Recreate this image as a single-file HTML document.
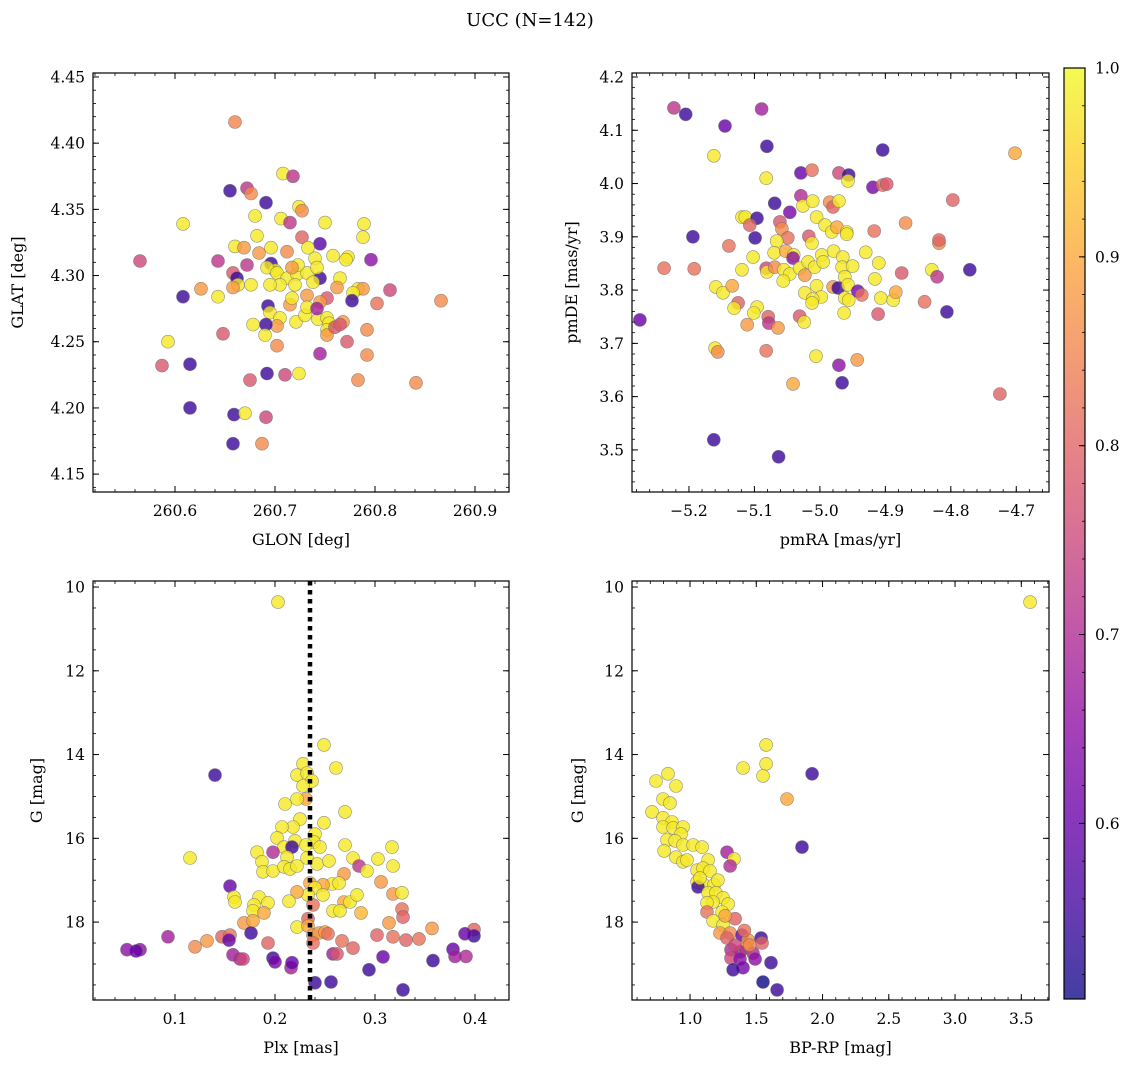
<!DOCTYPE html>
<html><head><meta charset="utf-8"><style>
html,body{margin:0;padding:0;background:#fff}
svg text{font-family:"DejaVu Serif","Liberation Serif",serif;fill:#000}
</style></head><body>
<svg id="fig" width="1136" height="1068" viewBox="0 0 1136 1068" xmlns="http://www.w3.org/2000/svg">
<defs>
<linearGradient id="plasma" x1="0" y1="1" x2="0" y2="0">
<stop offset="0" stop-color="#0d0887"/><stop offset="0.1" stop-color="#41049d"/><stop offset="0.2" stop-color="#6a00a8"/><stop offset="0.3" stop-color="#8f0da4"/><stop offset="0.4" stop-color="#b12a90"/><stop offset="0.5" stop-color="#cc4778"/><stop offset="0.6" stop-color="#e16462"/><stop offset="0.7" stop-color="#f2844b"/><stop offset="0.8" stop-color="#fca636"/><stop offset="0.9" stop-color="#fcce25"/><stop offset="1" stop-color="#f0f921"/>
</linearGradient>
</defs>
<text x="530" y="26" font-size="18" text-anchor="middle">UCC (N=142)</text>
</svg>
<script>
// ---- Panel 1: GLON / GLAT ----
const p1x=[260.660,260.655,260.672,260.676,260.691,260.708,260.718,260.680,260.706,260.715,260.724,260.727,260.750,260.789,260.788,260.608,260.682,260.660,260.669,260.684,260.696,260.712,260.727,260.745,260.733,260.758,260.773,260.771,260.796,260.643,260.672,260.658,260.696,260.700,260.626,260.608,260.643,260.662,260.663,260.658,260.676,260.745,260.765,260.762,260.783,260.788,260.778,260.777,260.802,260.752,260.745,260.732,260.715,260.693,260.695,260.705,260.702,260.691,260.678,260.690,260.721,260.730,260.732,260.743,260.752,260.754,260.742,260.752,260.752,260.760,260.768,260.765,260.792,260.772,260.745,260.792,260.648,260.702,260.615,260.692,260.710,260.724,260.675,260.783,260.692,260.702,260.712,260.722,260.720,260.705,260.695,260.732,260.740,260.742,260.738,260.717,260.723,260.717,260.565,260.587,260.593,260.615,260.659,260.670,260.691,260.658,260.687,260.866,260.841,260.815];
const p1y=[4.416,4.364,4.366,4.362,4.355,4.377,4.375,4.345,4.343,4.340,4.352,4.349,4.340,4.339,4.329,4.339,4.330,4.322,4.321,4.317,4.321,4.318,4.329,4.324,4.321,4.315,4.314,4.312,4.312,4.311,4.308,4.302,4.309,4.304,4.290,4.284,4.284,4.298,4.293,4.291,4.293,4.298,4.298,4.291,4.290,4.290,4.287,4.281,4.279,4.283,4.280,4.285,4.278,4.277,4.272,4.268,4.262,4.263,4.263,4.255,4.265,4.270,4.276,4.267,4.268,4.264,4.275,4.259,4.255,4.261,4.265,4.263,4.259,4.250,4.241,4.240,4.256,4.247,4.233,4.226,4.225,4.226,4.221,4.221,4.306,4.302,4.298,4.301,4.293,4.293,4.293,4.302,4.313,4.306,4.295,4.283,4.308,4.306,4.311,4.232,4.250,4.200,4.195,4.196,4.193,4.173,4.173,4.281,4.219,4.289];
const p1c=[.85,.55,.72,.86,.55,.98,.72,.98,.98,.72,.98,.86,.98,.98,.98,.98,.98,.98,.88,.88,.98,.86,.8,.58,.98,.98,.98,.98,.65,.72,.72,.78,.55,.98,.88,.55,.98,.55,.98,.88,.98,.55,.98,.88,.98,.88,.98,.55,.82,.78,.88,.88,.88,.55,.98,.98,.88,.55,.98,.98,.98,.98,.98,.98,.98,.98,.68,.98,.88,.78,.88,.78,.86,.78,.68,.86,.78,.86,.55,.55,.75,.98,.78,.86,.98,.98,.98,.98,.98,.98,.98,.98,.98,.98,.98,.98,.98,.88,.75,.78,.98,.55,.55,.98,.75,.55,.86,.86,.86,.75];
// ---- Panel 2: pmRA / pmDE ----
const p2x=[-5.082,-5.029,-5.012,-4.971,-4.956,-4.957,-4.919,-4.904,-4.898,-5.069,-5.046,-5.029,-5.026,-5.011,-4.985,-4.980,-4.971,-5.119,-5.114,-5.096,-5.107,-5.061,-5.058,-5.049,-5.005,-4.992,-4.982,-4.974,-4.959,-4.959,-4.917,-4.869,-5.194,-5.099,-5.139,-5.066,-5.017,-5.012,-5.070,-5.052,-5.040,-5.041,-4.997,-4.979,-4.965,-4.930,-5.102,-5.119,-5.082,-5.081,-5.069,-5.055,-5.046,-5.031,-5.018,-5.008,-4.995,-5.023,-4.966,-4.950,-4.962,-4.910,-4.916,-4.875,-4.829,-4.821,-4.818,-4.818,-5.192,-5.159,-5.148,-5.134,-5.056,-5.005,-4.980,-4.972,-5.023,-4.998,-5.011,-5.012,-4.957,-4.942,-4.936,-4.962,-4.956,-4.907,-4.888,-4.884,-4.840,-4.806,-5.125,-5.131,-5.096,-5.101,-5.079,-5.078,-5.064,-5.111,-5.031,-5.024,-4.963,-4.911,-5.160,-5.156,-5.082,-5.006,-4.971,-4.943,-5.041,-4.966,-5.223,-5.205,-5.089,-5.145,-5.081,-5.162,-4.904,-4.702,-4.797,-4.771,-5.238,-5.275,-4.725,-5.162,-5.063];
const p2y=[4.010,4.020,4.025,4.020,4.016,4.005,3.993,3.997,3.999,3.963,3.946,3.977,3.958,3.967,3.965,3.956,3.967,3.937,3.937,3.935,3.922,3.928,3.915,3.898,3.937,3.922,3.909,3.918,3.909,3.905,3.911,3.926,3.900,3.898,3.883,3.892,3.901,3.888,3.870,3.873,3.866,3.860,3.866,3.873,3.862,3.871,3.862,3.838,3.841,3.834,3.843,3.838,3.830,3.841,3.853,3.843,3.853,3.828,3.843,3.845,3.825,3.851,3.821,3.832,3.838,3.825,3.888,3.894,3.840,3.806,3.795,3.808,3.817,3.808,3.806,3.804,3.795,3.787,3.783,3.776,3.810,3.798,3.791,3.785,3.781,3.785,3.781,3.796,3.778,3.759,3.776,3.766,3.768,3.757,3.750,3.738,3.729,3.735,3.751,3.740,3.757,3.755,3.691,3.684,3.686,3.676,3.659,3.669,3.624,3.626,4.142,4.130,4.140,4.108,4.070,4.052,4.063,4.057,3.969,3.838,3.841,3.744,3.605,3.519,3.487];
const p2c=[.98,.6,.82,.75,.55,.98,.62,.82,.78,.55,.62,.7,.98,.98,.86,.8,.98,.98,.98,.55,.8,.78,.86,.82,.98,.98,.98,.9,.98,.98,.82,.86,.55,.55,.82,.98,.78,.98,.98,.9,.98,.65,.98,.98,.98,.98,.98,.98,.75,.98,.86,.98,.98,.98,.98,.98,.98,.88,.98,.98,.98,.98,.98,.78,.98,.72,.86,.8,.82,.98,.98,.9,.98,.98,.88,.55,.98,.98,.98,.98,.98,.62,.82,.98,.98,.98,.98,.9,.82,.55,.8,.98,.98,.98,.8,.72,.88,.88,.78,.98,.98,.78,.98,.86,.82,.98,.65,.88,.9,.55,.72,.55,.68,.6,.55,.98,.55,.9,.8,.55,.82,.6,.8,.55,.55];
// ---- Panel 3: Plx / G ----
const p3x=[.249,.140,.228,.261,.222,.232,.237,.228,.231,.222,.210,.270,.249,.225,.218,.207,.202,.220,.240,.239,.245,.209,.217,.231,.182,.198,.212,.232,.270,.317,.278,.303,.318,.284,.292,.115,.187,.188,.198,.209,.215,.222,.242,.254,.269,.306,.257,.264,.248,.235,.240,.233,.248,.222,.214,.269,.275,.282,.258,.265,.286,.318,.327,.238,.155,.159,.160,.184,.193,.179,.178,.189,.169,.178,.222,.233,.233,.238,.244,.250,.253,.238,.267,.278,.302,.314,.318,.327,.328,.331,.093,.120,.132,.147,.155,.154,.176,.193,.065,.158,.165,.168,.198,.200,.216,.217,.258,.262,.308,.294,.240,.256,.328,.203,.052,.061,.399,.399,.391,.390,.378,.380,.358,.357,.344];
const p3y=[13.77,14.49,14.22,14.32,14.49,14.44,14.63,14.75,15.06,15.06,15.18,15.37,15.63,15.54,15.73,15.73,15.99,16.06,15.90,16.09,16.21,16.21,16.21,16.16,16.33,16.33,16.45,16.47,16.16,16.21,16.47,16.49,16.66,16.66,16.78,16.47,16.56,16.80,16.78,16.68,16.73,16.66,16.61,16.54,16.85,17.04,17.09,17.07,17.11,17.07,17.18,17.35,17.35,17.28,17.50,17.52,17.52,17.35,17.73,17.73,17.78,17.33,17.30,17.59,17.14,17.40,17.52,17.40,17.54,17.59,17.73,17.78,18.02,17.97,18.12,17.92,18.09,18.31,18.26,18.24,18.28,18.50,18.45,18.62,18.31,18.02,18.35,17.69,17.88,18.43,18.35,18.59,18.45,18.35,18.31,18.43,18.26,18.50,18.66,18.78,18.88,18.88,18.86,18.95,19.09,18.97,18.76,18.76,18.83,19.14,19.45,19.43,19.62,10.36,18.66,18.69,18.18,18.33,18.82,18.28,18.65,18.82,18.92,18.15,18.40];
const p3c=[.98,.55,.98,.98,.98,.98,.98,.98,.9,.98,.98,.98,.98,.98,.98,.98,.98,.98,.98,.98,.98,.98,.55,.98,.98,.7,.98,.98,.98,.98,.98,.98,.98,.72,.98,.98,.98,.98,.98,.98,.98,.98,.98,.98,.88,.88,.98,.98,.9,.9,.98,.98,.98,.9,.98,.9,.98,.98,.98,.98,.92,.88,.98,.82,.6,.98,.98,.98,.98,.98,.98,.9,.88,.9,.98,.8,.9,.88,.88,.88,.82,.82,.82,.8,.8,.88,.82,.82,.8,.8,.68,.86,.88,.8,.82,.6,.55,.8,.65,.68,.7,.75,.55,.62,.68,.6,.68,.78,.6,.55,.55,.55,.55,.98,.65,.6,.8,.55,.7,.6,.6,.68,.55,.88,.82];
// ---- Panel 4: BP-RP / G ----
const p4x=[1.574,1.400,1.574,1.551,1.921,1.732,1.845,.743,.834,.894,.796,.849,.713,.796,.864,.796,.872,.947,.932,.826,.887,.947,.804,1.023,1.091,.894,.947,.977,1.136,1.279,1.332,1.302,1.053,1.098,1.151,1.053,1.098,1.181,1.060,1.136,1.196,1.249,1.287,1.174,1.128,1.242,1.128,1.340,1.174,1.249,1.226,1.302,1.279,1.392,1.438,1.423,1.536,1.543,1.309,1.377,1.309,1.377,1.475,1.491,1.400,1.325,1.611,1.551,1.657,3.566,1.075,1.210,1.265,1.340,1.410,1.450];
const p4y=[13.77,14.32,14.22,14.51,14.46,15.06,16.21,14.63,14.46,14.75,15.06,15.16,15.37,15.51,15.61,15.73,15.75,15.73,15.90,16.04,16.06,16.16,16.30,16.16,16.21,16.45,16.56,16.52,16.52,16.33,16.49,16.66,16.76,16.71,16.78,17.04,17.09,17.11,17.16,17.30,17.30,17.42,17.57,17.52,17.54,17.76,17.76,17.92,17.97,18.07,18.26,18.26,18.38,18.31,18.43,18.62,18.38,18.50,18.66,18.71,18.86,18.88,18.74,18.88,19.09,19.14,18.97,19.43,19.62,10.36,16.95,17.00,17.85,18.55,18.20,18.55];
const p4c=[.98,.98,.98,.98,.55,.9,.55,.98,.98,.98,.98,.98,.98,.98,.98,.98,.98,.98,.98,.98,.98,.98,.98,.98,.98,.98,.98,.98,.98,.68,.98,.7,.98,.98,.98,.98,.98,.98,.55,.98,.98,.98,.98,.98,.98,.98,.82,.8,.98,.98,.88,.86,.8,.6,.88,.9,.55,.8,.7,.68,.75,.65,.7,.65,.62,.55,.55,.5,.55,.98,.98,.98,.9,.75,.82,.85];
// ---- colorbar ----
const cbTicks=[0.6,0.7,0.8,0.9,1.0];
const cbMin=0.507, cbMax=1.0;

const NS='http://www.w3.org/2000/svg';
const svg=document.getElementById('fig');
function mk(tag,attrs,parent){const e=document.createElementNS(NS,tag);for(const k in attrs)e.setAttribute(k,attrs[k]);(parent||svg).appendChild(e);return e;}
const stops=[[13,8,135],[65,4,157],[106,0,168],[143,13,164],[177,42,144],[204,71,120],[225,100,98],[242,132,75],[252,166,54],[252,206,37],[240,249,33]];
function plasma(p){let t=(p-cbMin)/(cbMax-cbMin);t=Math.max(0,Math.min(1,t))*10;const i=Math.min(9,Math.floor(t)),f=t-i;const a=stops[i],b=stops[i+1];return 'rgb('+[0,1,2].map(k=>Math.round(a[k]+(b[k]-a[k])*f)).join(',')+')';}
function fmt(v,d){return (v<0?'\u2212':'')+Math.abs(v).toFixed(d);}

function panel(cfg){
  const g=mk('g',{});
  
  
  const sx=v=>cfg.x0+(v-cfg.xa)/(cfg.xb-cfg.xa)*(cfg.x1-cfg.x0);
  const sy=v=>cfg.y0+(v-cfg.ya)/(cfg.yb-cfg.ya)*(cfg.y1-cfg.y0);
  const clipId='clip-'+cfg.name;
  const cp=mk('clipPath',{id:clipId},g);mk('rect',{x:cfg.x0,y:cfg.y0,width:cfg.x1-cfg.x0,height:cfg.y1-cfg.y0},cp);
  const pts=mk('g',{'clip-path':'url(#'+clipId+')'},g);
  
  
  const n=Math.min(cfg.xs.length,cfg.ys.length,cfg.cs.length);
  for(let i=0;i<n;i++){
    const c=mk('circle',{cx:sx(cfg.xs[i]).toFixed(1),cy:sy(cfg.ys[i]).toFixed(1),r:6.5,fill:plasma(cfg.cs[i]),'fill-opacity':0.8,stroke:'#666','stroke-width':0.6,'stroke-opacity':0.7},pts);
    
    
  }
  if(cfg.vline!==undefined){
    const l=mk('line',{x1:sx(cfg.vline),x2:sx(cfg.vline),y1:cfg.y0,y2:cfg.y1,stroke:'#000','stroke-width':4.5,'stroke-dasharray':'4.5 4.5'},g);
    
    
  }
  const box=mk('rect',{x:cfg.x0,y:cfg.y0,width:cfg.x1-cfg.x0,height:cfg.y1-cfg.y0,fill:'none',stroke:'#000','stroke-width':1.2},g);
  
  
  const xl=Math.min(cfg.xa,cfg.xb),xh=Math.max(cfg.xa,cfg.xb),yl=Math.min(cfg.ya,cfg.yb),yh=Math.max(cfg.ya,cfg.yb);
  for(let v=Math.ceil(xl/cfg.xminor-1e-6)*cfg.xminor;v<=xh+1e-9;v+=cfg.xminor){const X=sx(v);mk('line',{x1:X,x2:X,y1:cfg.y1,y2:cfg.y1-3,stroke:'#000','stroke-width':0.8},g);mk('line',{x1:X,x2:X,y1:cfg.y0,y2:cfg.y0+3,stroke:'#000','stroke-width':0.8},g);}
  for(let v=Math.ceil(yl/cfg.yminor-1e-6)*cfg.yminor;v<=yh+1e-9;v+=cfg.yminor){const Y=sy(v);mk('line',{x1:cfg.x0,x2:cfg.x0+3,y1:Y,y2:Y,stroke:'#000','stroke-width':0.8},g);mk('line',{x1:cfg.x1,x2:cfg.x1-3,y1:Y,y2:Y,stroke:'#000','stroke-width':0.8},g);}
  cfg.xticks.forEach(v=>{const X=sx(v);mk('line',{x1:X,x2:X,y1:cfg.y1,y2:cfg.y1-6,stroke:'#000','stroke-width':1},g);mk('line',{x1:X,x2:X,y1:cfg.y0,y2:cfg.y0+6,stroke:'#000','stroke-width':1},g);
    const t=mk('text',{x:X,y:cfg.y1+24,'font-size':15.5,'text-anchor':'middle'},g);t.textContent=fmt(v,cfg.xd);
    
    });
  cfg.yticks.forEach(v=>{const Y=sy(v);mk('line',{x1:cfg.x0,x2:cfg.x0+6,y1:Y,y2:Y,stroke:'#000','stroke-width':1},g);mk('line',{x1:cfg.x1,x2:cfg.x1-6,y1:Y,y2:Y,stroke:'#000','stroke-width':1},g);
    const t=mk('text',{x:cfg.x0-8,y:Y+5.5,'font-size':15.5,'text-anchor':'end'},g);t.textContent=fmt(v,cfg.yd);
    
    });
  const xt=mk('text',{x:(cfg.x0+cfg.x1)/2,y:cfg.y1+53,'font-size':16,'text-anchor':'middle'},g);xt.textContent=cfg.xlabel;
  
  
  const yx=cfg.ylx,yy=(cfg.y0+cfg.y1)/2;
  const yt=mk('text',{x:yx,y:yy,'font-size':16,'text-anchor':'middle',transform:'rotate(-90 '+yx+' '+yy+')'},g);yt.textContent=cfg.ylabel;
  
  
}
function range(a,b,s){const r=[];for(let v=a;v<=b+1e-9;v+=s)r.push(Math.round(v*1000)/1000);return r;}

panel({name:'glon-glat-panel',x0:93,x1:509,y0:73,y1:492,xa:260.518,xb:260.934,ya:4.453,yb:4.1365,xs:p1x,ys:p1y,cs:p1c,xticks:range(260.6,260.9,0.1),xd:1,xminor:0.02,yticks:range(4.15,4.45,0.05),yd:2,yminor:0.01,xlabel:'GLON [deg]',ylabel:'GLAT [deg]',ylx:23});
panel({name:'pm-panel',x0:632,x1:1049,y0:73,y1:492,xa:-5.287,xb:-4.650,ya:4.2075,yb:3.421,xs:p2x,ys:p2y,cs:p2c,xticks:range(-5.2,-4.7,0.1),xd:1,xminor:0.02,yticks:range(3.5,4.2,0.1),yd:1,yminor:0.02,xlabel:'pmRA [mas/yr]',ylabel:'pmDE [mas/yr]',ylx:577});
panel({name:'plx-g-panel',x0:93,x1:509,y0:581,y1:1000,xa:0.018,xb:0.434,ya:9.856,yb:19.86,xs:p3x,ys:p3y,cs:p3c,xticks:range(0.1,0.4,0.1),xd:1,xminor:0.02,yticks:range(10,18,2),yd:0,yminor:0.5,xlabel:'Plx [mas]',ylabel:'G [mag]',ylx:42,vline:0.235});
panel({name:'cmd-panel',x0:632,x1:1049,y0:581,y1:1000,xa:0.562,xb:3.709,ya:9.856,yb:19.86,xs:p4x,ys:p4y,cs:p4c,xticks:range(1.0,3.5,0.5),xd:1,xminor:0.1,yticks:range(10,18,2),yd:0,yminor:0.5,xlabel:'BP-RP [mag]',ylabel:'G [mag]',ylx:583});

// colorbar
const cb=mk('g',{});


const cx0=1064,cx1=1085,cy0=68,cy1=999;
const cys=v=>cy1-(v-cbMin)/(cbMax-cbMin)*(cy1-cy0);
mk('rect',{x:cx0,y:cy0,width:cx1-cx0,height:cy1-cy0,fill:'url(#plasma)','fill-opacity':0.78},cb);
mk('rect',{x:cx0,y:cy0,width:cx1-cx0,height:cy1-cy0,fill:'none',stroke:'#000','stroke-width':1.2},cb);
for(let v=0.52;v<=1.0001;v+=0.02){const Y=cys(v);mk('line',{x1:cx1,x2:cx1-3,y1:Y,y2:Y,stroke:'#000','stroke-width':0.8},cb);}
cbTicks.forEach(v=>{const Y=cys(v);mk('line',{x1:cx1,x2:cx1-6,y1:Y,y2:Y,stroke:'#000','stroke-width':1},cb);
  const t=mk('text',{x:cx1+10,y:Y+5.5,'font-size':15.5},cb);t.textContent=v.toFixed(1);
  
  });
</script>
</body></html>
